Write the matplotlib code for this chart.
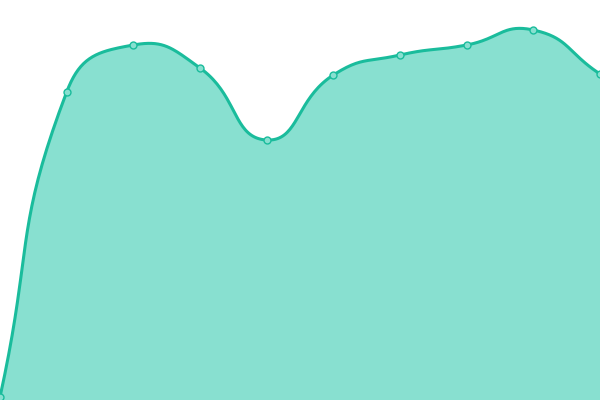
import numpy as np
from matplotlib import pyplot as plt

# values (no axes shown, 0..400 scale)
categories = list(range(10))
values = [3, 308, 355, 332, 260, 325, 345, 355, 370, 326]

LINE = "#1abc9c"
FILL = "#88e0d0"


def smooth_curve(xs, ys, smooth=0.5, n=40):
    # bezier smoothing in pixel space, similar to echarts smooth lines
    px = np.asarray(xs, float) * 600 / (len(xs) - 1)
    py = np.asarray(ys, float)
    cps = []
    for i in range(len(px)):
        p = np.array([px[i], py[i]])
        prev = np.array([px[max(i - 1, 0)], py[max(i - 1, 0)]])
        nxt = np.array([px[min(i + 1, len(px) - 1)], py[min(i + 1, len(px) - 1)]])
        v = nxt - prev
        d0 = np.hypot(*(p - prev))
        d1 = np.hypot(*(nxt - p))
        tot = d0 + d1
        if tot == 0:
            cps.append((p, p))
            continue
        cps.append((p - v * smooth * d0 / tot, p + v * smooth * d1 / tot))
    out_x, out_y = [], []
    t = np.linspace(0, 1, n)[:, None]
    for i in range(len(px) - 1):
        p0 = np.array([px[i], py[i]])
        p3 = np.array([px[i + 1], py[i + 1]])
        c1 = cps[i][1]
        c2 = cps[i + 1][0]
        seg = ((1 - t) ** 3) * p0 + 3 * ((1 - t) ** 2) * t * c1 + 3 * (1 - t) * t ** 2 * c2 + t ** 3 * p3
        out_x.extend(seg[:, 0])
        out_y.extend(seg[:, 1])
    return np.array(out_x) * (len(xs) - 1) / 600, np.array(out_y)


fig = plt.figure(figsize=(6, 4), dpi=100)
ax = fig.add_axes([0, 0, 1, 1])
cx, cy = smooth_curve(categories, values)
ax.fill_between(cx, 0, cy, color=FILL, linewidth=0)
ax.plot(cx, cy, color=LINE, linewidth=2.2, solid_capstyle="round")
ax.plot(categories, values, "o", markersize=5, markerfacecolor=FILL,
        markeredgecolor=LINE, markeredgewidth=1)
ax.set_xlim(0, len(categories) - 1)
ax.set_ylim(0, 400)
ax.axis("off")
fig.savefig("out.png", dpi=100)
